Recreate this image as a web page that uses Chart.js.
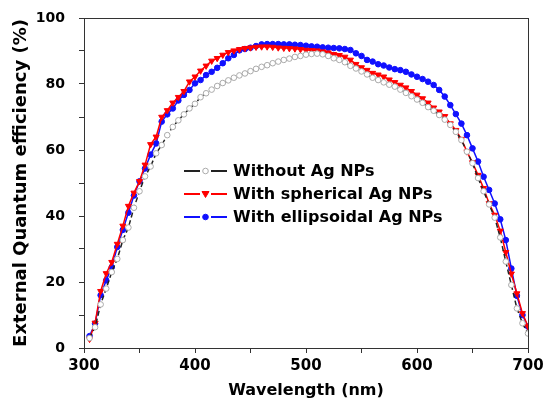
<!DOCTYPE html>
<html>
<head>
<meta charset="utf-8">
<script src="https://cdn.jsdelivr.net/npm/chart.js@4/dist/chart.umd.min.js"></script>
<style>
  body { margin: 0; background: #fff; }
</style>
</head>
<body>
<canvas id="myCanvas" width="543" height="409"></canvas>
<script>
// wavelength (nm), 305..700 every 5 nm
let wavelengths = [];
for (let w = 305; w <= 700; w += 5) wavelengths.push(w);

let withoutAg = [
    3, 6.3, 13.2, 18, 23, 27, 32.7, 36.5, 42.5, 47.5,
    52, 55, 59, 61.5, 64.5, 67, 69, 70.8, 72.6, 74,
    76, 77.2, 78.3, 79.4, 80.3, 81.1, 81.9, 82.6, 83.2, 83.9,
    84.6, 85.2, 85.7, 86.3, 86.8, 87.3, 87.7, 88.2, 88.5, 88.9,
    89.1, 89.2, 89.0, 88.5, 87.8, 87.3, 86.6, 85.5, 84.7, 83.8,
    82.9, 81.9, 81.2, 80.5, 79.8, 79.2, 78.3, 77.3, 76.3, 75.3,
    74.3, 73.0, 71.9, 70.6, 69.2, 67.6, 65.5, 63, 59.5, 56,
    51.5, 47.5, 43.5, 39.5, 33.5, 26.2, 19.1, 12, 7.5, 4.4
];

let sphericalAg = [
    2.7, 7.6, 17.2, 22.6, 26, 31.5, 37, 43, 47, 50.5,
    55.5, 61.7, 64, 70, 72, 74.3, 76, 77.8, 80.7, 82.2,
    84, 85.5, 87, 87.8, 88.8, 89.6, 90.1, 90.5, 90.8, 91,
    91.2, 91.3, 91.3, 91.2, 91, 90.9, 90.8, 90.7, 90.5, 90.3,
    90.2, 90.1, 89.8, 89.5, 89, 88.7, 88.2, 87.3, 86, 85,
    84.2, 83.3, 82.8, 82.2, 81.3, 80.5, 79.7, 78.9, 77.8, 76.7,
    75.6, 74.3, 72.8, 71.6, 70.2, 68, 66, 63.3, 59.5, 56.2,
    52.4, 48.4, 43.8, 40.3, 35.5, 29, 22.5, 16.5, 10.5, 6.5
];

let ellipsoidalAg = [
    3.6, 7.4, 16, 20.5, 24.5, 30.6, 35.8, 41, 46.2, 50.5,
    54.4, 58.6, 62, 68.6, 70.8, 72.6, 75, 76.7, 78.2, 80.2,
    81.2, 82.7, 83.7, 84.9, 86.3, 87.8, 88.8, 90.2, 90.6, 91,
    91.5, 92, 92.1, 92.1, 92.1, 92, 92, 91.9, 91.8, 91.6,
    91.4, 91.3, 91.1, 91, 90.9, 90.8, 90.6, 90.3, 89.3, 88.5,
    87.3, 86.8, 86, 85.6, 85, 84.5, 84.2, 83.7, 82.9, 82.2,
    81.5, 80.7, 79.7, 78.2, 76.2, 73.6, 70.9, 68, 64.5, 60.5,
    56.5, 51.9, 47.9, 43.8, 39, 32.7, 24.1, 15.8, 10, 6.5
];

let seriesLabels = ["Without Ag NPs", "With spherical Ag NPs", "With ellipsoidal Ag NPs"];

function toPoints(values) {
    return values.map((v, i) => ({ x: wavelengths[i], y: v }));
}

let fontFamily = '"DejaVu Sans", sans-serif';

// box around the plot + legend inside the plot area
let framePlugin = {
    id: 'frame',
    afterDraw(chart) {
        let ctx = chart.ctx;
        let a = chart.chartArea;
        ctx.save();
        ctx.strokeStyle = '#333';
        ctx.lineWidth = 1;
        ctx.strokeRect(a.left + 0.5, a.top + 0.5, a.right - a.left, a.bottom - a.top);

        let x0 = 184, rowY = [171, 194, 217];
        chart.data.datasets.forEach((ds, i) => {
            let y = rowY[i];
            ctx.strokeStyle = ds.borderColor;
            ctx.lineWidth = 2;
            ctx.setLineDash([]);
            ctx.beginPath();
            ctx.moveTo(x0, y); ctx.lineTo(x0 + 16, y);
            ctx.moveTo(x0 + 27, y); ctx.lineTo(x0 + 43, y);
            ctx.stroke();
            let cx = x0 + 21.5;
            ctx.lineWidth = 1;
            ctx.fillStyle = ds.pointBackgroundColor;
            ctx.strokeStyle = ds.pointBorderColor;
            ctx.beginPath();
            if (ds.pointStyle === 'triangle') {
                ctx.moveTo(cx - 3.5, y - 2.5);
                ctx.lineTo(cx + 3.5, y - 2.5);
                ctx.lineTo(cx, y + 3.5);
                ctx.closePath();
            } else {
                ctx.arc(cx, y, 2.8, 0, Math.PI * 2);
            }
            ctx.fill();
            ctx.stroke();
            ctx.fillStyle = '#000';
            ctx.font = 'bold 16px ' + fontFamily;
            ctx.textBaseline = 'middle';
            ctx.fillText(ds.label, x0 + 49, y + 1);
        });
        ctx.restore();
    }
};

let canvas = document.getElementById("myCanvas");
let ctx = canvas.getContext("2d");

new Chart(ctx, {
    type: 'line',
    data: {
        datasets: [{
            label: seriesLabels[0],
            data: toPoints(withoutAg),
            borderColor: '#222',
            borderWidth: 1.5,
            borderDash: [5, 3],
            pointStyle: 'circle',
            pointRadius: 2.8,
            pointBorderWidth: 1,
            pointBorderColor: '#aaa',
            pointBackgroundColor: '#fff'
        }, {
            label: seriesLabels[1],
            data: toPoints(sphericalAg),
            borderColor: '#ff0000',
            borderWidth: 1.5,
            pointStyle: 'triangle',
            pointRotation: 180,
            pointRadius: 3.5,
            pointBorderWidth: 1,
            pointBorderColor: '#ff0000',
            pointBackgroundColor: '#ff0000'
        }, {
            label: seriesLabels[2],
            data: toPoints(ellipsoidalAg),
            borderColor: '#1010ff',
            borderWidth: 1.5,
            pointStyle: 'circle',
            pointRadius: 2.8,
            pointBorderWidth: 1,
            pointBorderColor: '#1010ff',
            pointBackgroundColor: '#1010ff'
        }]
    },
    options: {
        responsive: false,
        animation: false,
        layout: { padding: { top: 18, right: 0, left: 0, bottom: 0 } },
        plugins: {
            legend: { display: false },
            tooltip: { enabled: false }
        },
        scales: {
            x: {
                type: 'linear',
                min: 300,
                max: 700,
                afterFit: (s) => { s.height = 61; s.paddingRight = 15; },
                grid: { display: true, drawOnChartArea: false, tickLength: 5, color: '#333' },
                border: { display: true, color: '#333' },
                ticks: {
                    stepSize: 50,
                    autoSkip: false,
                    maxRotation: 0,
                    padding: 4,
                    color: '#000',
                    font: { family: fontFamily, size: 15, weight: 'bold' },
                    callback: (v) => (v % 100 === 0 ? v : '')
                },
                title: {
                    display: true,
                    text: 'Wavelength (nm)',
                    color: '#000',
                    padding: { top: 0, bottom: 9 },
                    font: { family: fontFamily, size: 16, weight: 'bold' }
                }
            },
            y: {
                min: 0,
                max: 100,
                afterFit: (s) => { s.width = 84; s.paddingTop = 0; s.paddingBottom = 0; },
                grid: { display: true, drawOnChartArea: false, tickLength: 5, color: '#333' },
                border: { display: true, color: '#333' },
                ticks: {
                    stepSize: 10,
                    autoSkip: false,
                    padding: 14,
                    color: '#000',
                    font: { family: fontFamily, size: 14, weight: 'bold' },
                    callback: (v) => (v % 20 === 0 ? v : '')
                },
                title: {
                    display: true,
                    text: 'External Quantum efficiency (%)',
                    color: '#000',
                    padding: { top: 11, bottom: 2 },
                    font: { family: fontFamily, size: 18, weight: 'bold' }
                }
            }
        }
    },
    plugins: [framePlugin]
});
</script>
</body>
</html>
